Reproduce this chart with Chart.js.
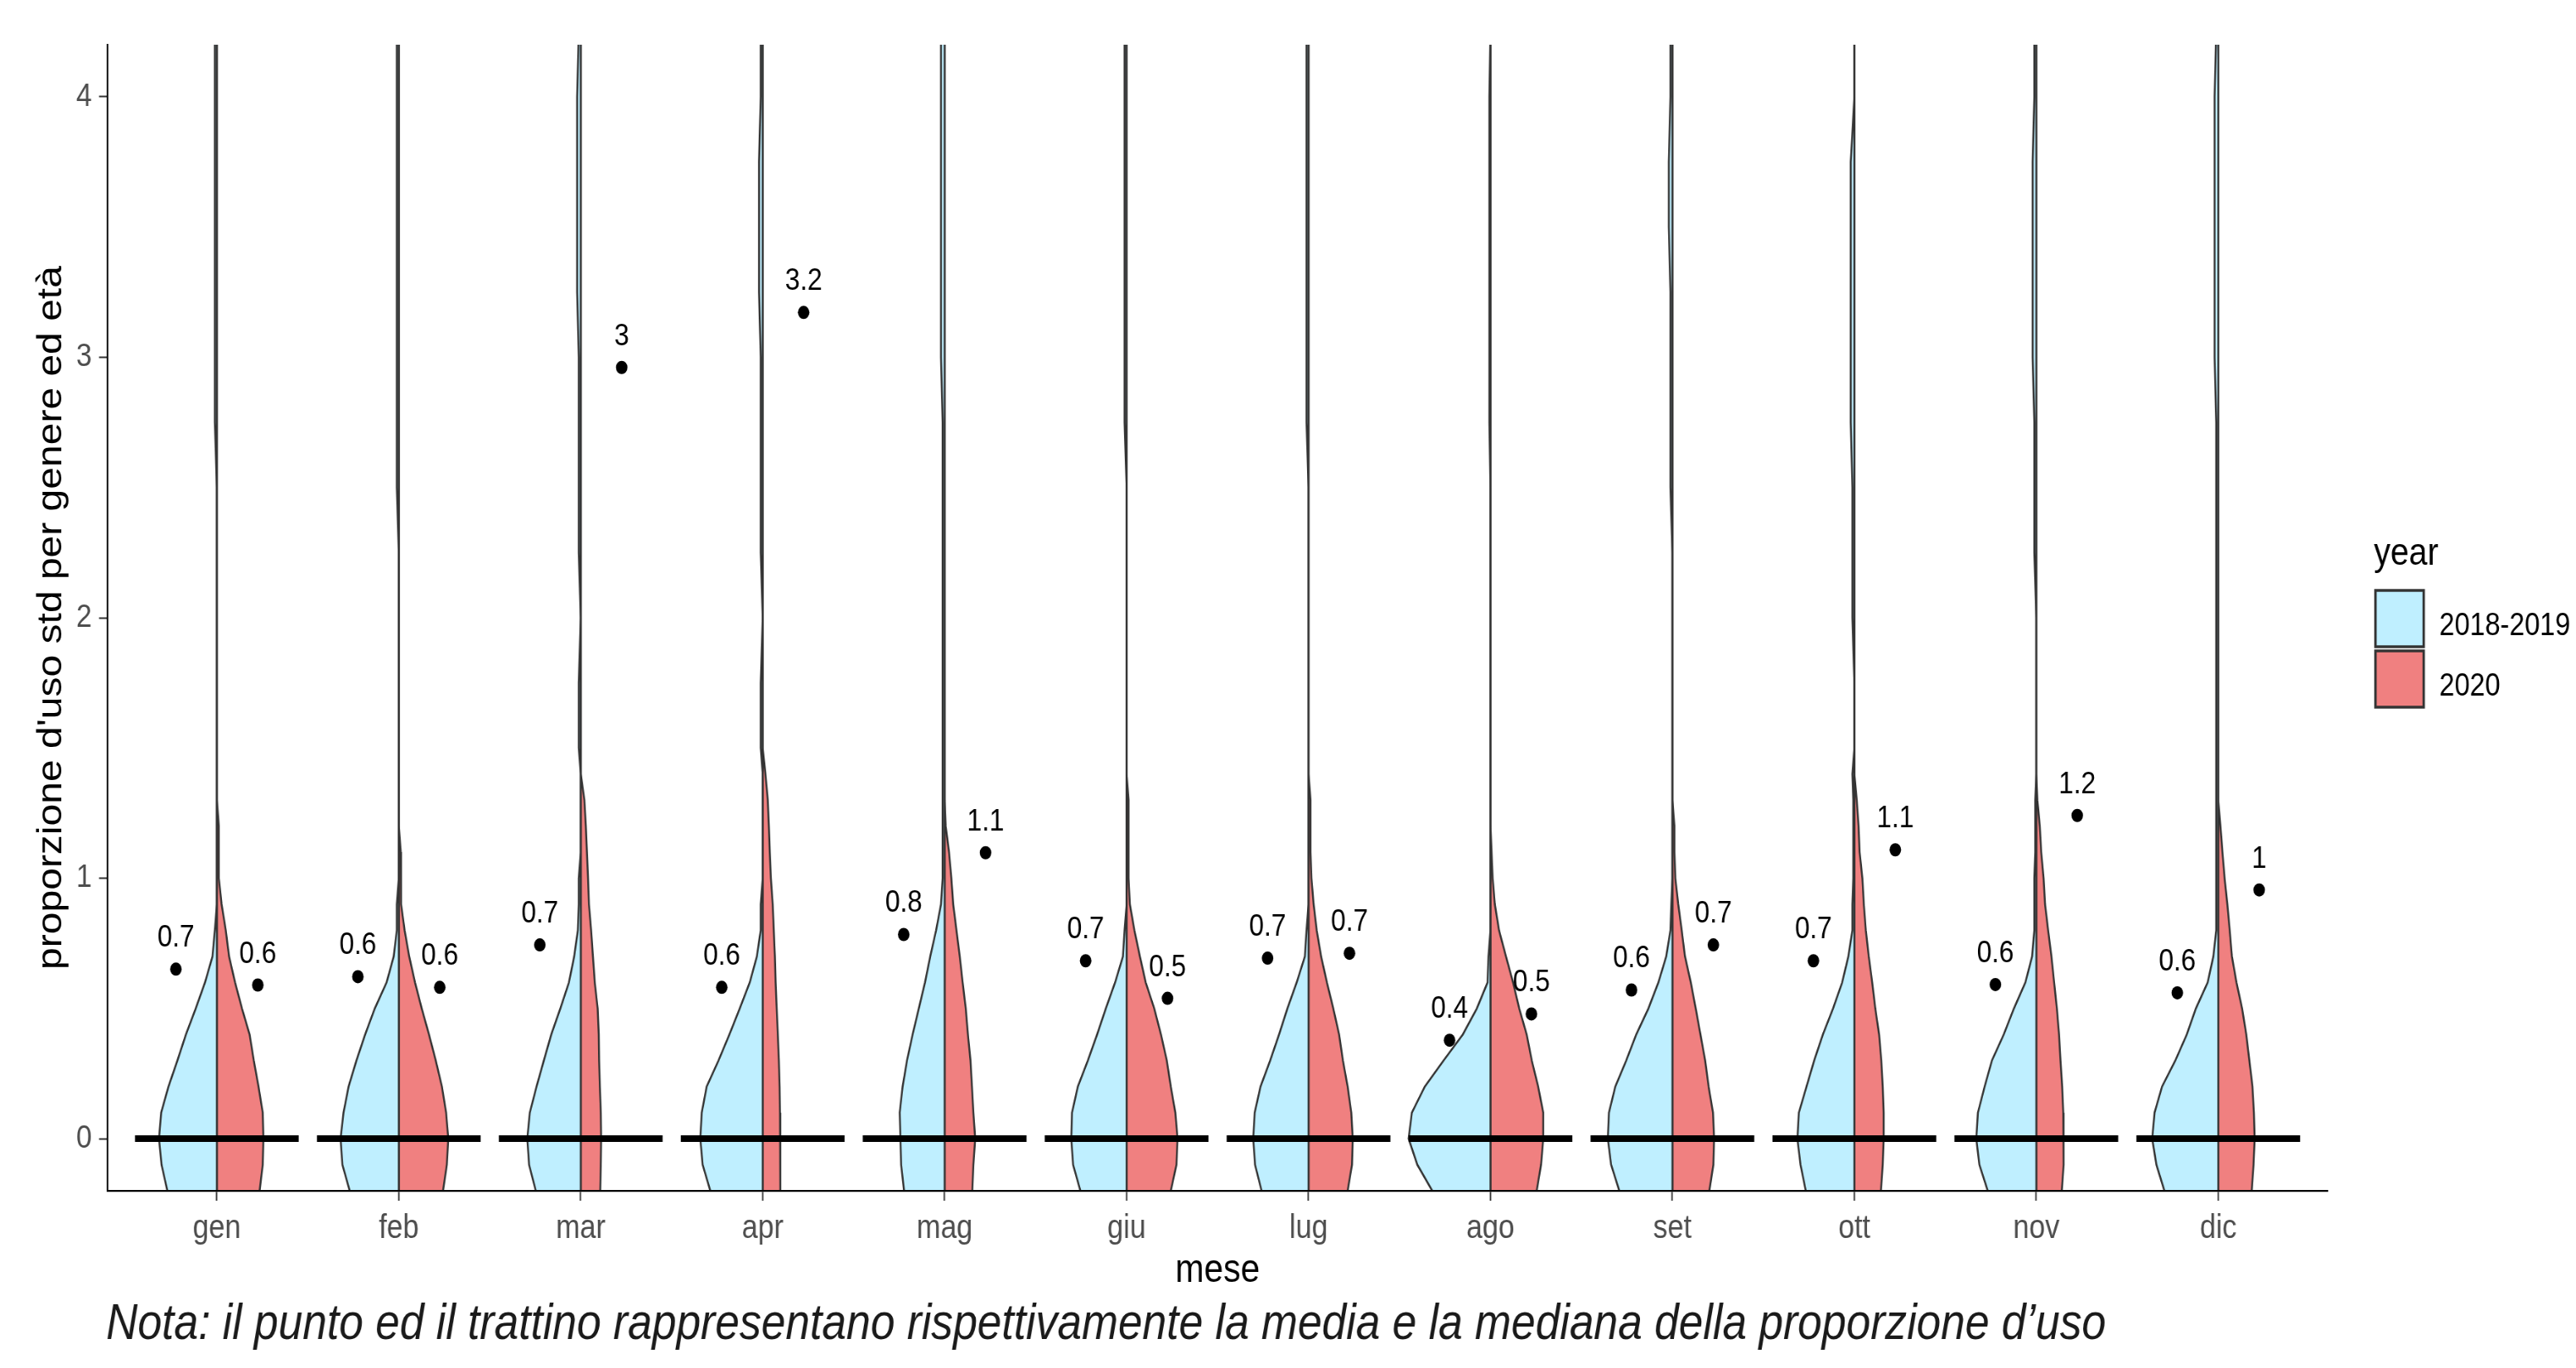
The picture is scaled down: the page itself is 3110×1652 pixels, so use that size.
<!DOCTYPE html>
<html>
<head>
<meta charset="utf-8">
<script src="https://cdn.jsdelivr.net/npm/chart.js@4.4.1/dist/chart.umd.min.js"></script>
<style>
  html, body { margin: 0; padding: 0; background: #fff; }
  #frame { width: 3110px; height: 1652px; overflow: hidden; }
  /* the original picture is squeezed sideways, so draw wider and squeeze */
  #wrap { width: 3575px; height: 1652px; transform: scaleX(0.86993); transform-origin: 0 0; }
</style>
</head>
<body>
<div id="frame"><div id="wrap"><canvas id="violin"></canvas></div></div>
<script>
const MONTHS = ["gen", "feb", "mar", "apr", "mag", "giu", "lug", "ago", "set", "ott", "nov", "dic"];
const GROUPS = ["2018-2019", "2020"];
const Y_TICKS = [0, 1, 2, 3, 4];

// heights where the half widths below were read (y units)
const Y_LEVELS = [-0.2, -0.1, 0, 0.1, 0.2, 0.3, 0.4, 0.5, 0.6, 0.7, 0.8, 0.9, 1.0, 1.1, 1.2, 1.3, 1.4, 1.5,
                  1.75, 2, 2.25, 2.5, 2.75, 3, 3.25, 3.5, 3.75, 4, 4.25];

// half width of each violin (category units), 2018-2019 = left half
const WIDTH_1819 = [
  [0.272, 0.304, 0.318, 0.306, 0.266, 0.217, 0.170, 0.116, 0.065, 0.024, 0.011, 0, 0, 0, 0, 0, 0, 0, 0, 0, 0, 0, 0.011, 0.011, 0.011, 0.011, 0.011, 0.011, 0.011], // gen
  [0.270, 0.310, 0.320, 0.304, 0.276, 0.233, 0.185, 0.132, 0.067, 0.028, 0.011, 0.011, 0, 0, 0, 0, 0, 0, 0, 0, 0, 0.011, 0.011, 0.011, 0.011, 0.011, 0.011, 0.011, 0.011], // feb
  [0.247, 0.284, 0.294, 0.280, 0.243, 0.203, 0.162, 0.112, 0.065, 0.036, 0.016, 0.011, 0.011, 0, 0, 0, 0, 0.011, 0.011, 0, 0.011, 0.011, 0.011, 0.011, 0.020, 0.020, 0.020, 0.020, 0.011], // mar
  [0.288, 0.330, 0.343, 0.335, 0.308, 0.243, 0.183, 0.126, 0.071, 0.032, 0.011, 0.011, 0, 0, 0, 0, 0, 0.011, 0.011, 0, 0.011, 0.011, 0.011, 0.011, 0.020, 0.020, 0.020, 0.011, 0.011], // apr
  [0.223, 0.239, 0.243, 0.247, 0.231, 0.207, 0.176, 0.142, 0.108, 0.079, 0.047, 0.020, 0.011, 0.011, 0.011, 0.011, 0.011, 0.011, 0.011, 0.011, 0.011, 0.011, 0.011, 0.020, 0.020, 0.020, 0.020, 0.020, 0.020], // mag
  [0.254, 0.294, 0.304, 0.300, 0.268, 0.213, 0.162, 0.114, 0.063, 0.020, 0.011, 0, 0, 0, 0, 0, 0, 0, 0, 0, 0, 0, 0.011, 0.011, 0.011, 0.011, 0.011, 0.011, 0.011], // giu
  [0.258, 0.294, 0.304, 0.296, 0.264, 0.211, 0.162, 0.116, 0.065, 0.020, 0.011, 0, 0, 0, 0, 0, 0, 0, 0, 0, 0, 0, 0.011, 0.011, 0.011, 0.011, 0.011, 0.011, 0.011], // lug
  [0.320, 0.402, 0.450, 0.432, 0.361, 0.258, 0.152, 0.075, 0.016, 0.011, 0, 0, 0, 0, 0, 0, 0, 0, 0, 0, 0, 0, 0.006, 0.006, 0.006, 0.006, 0.006, 0.006, 0], // ago
  [0.292, 0.337, 0.355, 0.349, 0.314, 0.254, 0.199, 0.132, 0.077, 0.034, 0.011, 0.006, 0, 0, 0, 0, 0, 0, 0, 0, 0, 0.011, 0.011, 0.011, 0.011, 0.020, 0.020, 0.011, 0.011], // set
  [0.267, 0.296, 0.313, 0.305, 0.263, 0.221, 0.173, 0.117, 0.067, 0.033, 0.011, 0.011, 0.006, 0.006, 0.006, 0.006, 0.011, 0, 0, 0.011, 0.011, 0.011, 0.020, 0.020, 0.020, 0.020, 0.020, 0, 0], // ott
  [0.267, 0.313, 0.330, 0.321, 0.284, 0.244, 0.179, 0.123, 0.060, 0.023, 0.011, 0.011, 0.011, 0.006, 0.006, 0.006, 0, 0, 0, 0, 0.011, 0.011, 0.011, 0.020, 0.020, 0.020, 0.020, 0.011, 0.011], // nov
  [0.296, 0.340, 0.363, 0.350, 0.309, 0.236, 0.173, 0.123, 0.058, 0.027, 0.011, 0.011, 0.011, 0.011, 0.011, 0.011, 0.011, 0.011, 0.011, 0.011, 0.011, 0.011, 0.011, 0.020, 0.020, 0.020, 0.020, 0.020, 0.011]  // dic
];

// 2020 = right half
const WIDTH_2020 = [
  [0.235, 0.252, 0.256, 0.252, 0.229, 0.203, 0.180, 0.138, 0.100, 0.067, 0.049, 0.026, 0.011, 0.011, 0.011, 0, 0, 0, 0, 0, 0, 0, 0, 0, 0, 0, 0, 0, 0], // gen
  [0.243, 0.264, 0.272, 0.260, 0.237, 0.203, 0.166, 0.126, 0.089, 0.057, 0.032, 0.014, 0.011, 0.011, 0, 0, 0, 0, 0, 0, 0, 0, 0, 0, 0, 0, 0, 0, 0], // feb
  [0.107, 0.110, 0.112, 0.110, 0.105, 0.101, 0.099, 0.093, 0.077, 0.067, 0.057, 0.045, 0.040, 0.034, 0.028, 0.020, 0, 0, 0, 0, 0, 0, 0, 0, 0, 0, 0, 0, 0], // mar
  [0.097, 0.097, 0.097, 0.095, 0.093, 0.089, 0.083, 0.077, 0.071, 0.067, 0.061, 0.055, 0.045, 0.039, 0.034, 0.028, 0.015, 0, 0, 0, 0, 0, 0, 0, 0, 0, 0, 0, 0], // apr
  [0.152, 0.158, 0.168, 0.158, 0.150, 0.142, 0.128, 0.116, 0.099, 0.083, 0.065, 0.047, 0.037, 0.024, 0.006, 0, 0, 0, 0, 0, 0, 0, 0, 0, 0, 0, 0, 0, 0], // mag
  [0.243, 0.274, 0.280, 0.268, 0.243, 0.221, 0.189, 0.152, 0.105, 0.073, 0.043, 0.018, 0.011, 0.011, 0.011, 0.011, 0, 0, 0, 0, 0, 0, 0, 0, 0, 0, 0, 0, 0], // giu
  [0.215, 0.239, 0.243, 0.235, 0.215, 0.189, 0.168, 0.136, 0.101, 0.069, 0.045, 0.028, 0.016, 0.011, 0.011, 0.011, 0, 0, 0, 0, 0, 0, 0, 0, 0, 0, 0, 0, 0], // lug
  [0.254, 0.278, 0.290, 0.290, 0.262, 0.227, 0.199, 0.158, 0.124, 0.085, 0.047, 0.024, 0.012, 0.006, 0, 0, 0, 0, 0, 0, 0, 0, 0, 0, 0, 0, 0, 0, 0], // ago
  [0.203, 0.225, 0.229, 0.223, 0.199, 0.180, 0.154, 0.128, 0.101, 0.069, 0.051, 0.032, 0.016, 0.011, 0.011, 0, 0, 0, 0, 0, 0, 0, 0, 0, 0, 0, 0, 0, 0], // set
  [0.146, 0.156, 0.161, 0.161, 0.156, 0.148, 0.136, 0.115, 0.098, 0.079, 0.063, 0.052, 0.044, 0.029, 0.023, 0.013, 0, 0, 0, 0, 0, 0, 0, 0, 0, 0, 0, 0, 0], // ott
  [0.140, 0.150, 0.150, 0.148, 0.142, 0.133, 0.125, 0.113, 0.098, 0.083, 0.065, 0.048, 0.040, 0.027, 0.019, 0.006, 0, 0, 0, 0, 0, 0, 0, 0, 0, 0, 0, 0, 0], // nov
  [0.184, 0.194, 0.200, 0.196, 0.188, 0.171, 0.154, 0.131, 0.100, 0.075, 0.063, 0.050, 0.035, 0.023, 0.012, 0, 0, 0, 0, 0, 0, 0, 0, 0, 0, 0, 0, 0, 0]  // dic
];

const MEAN_1819 = [0.651, 0.622, 0.744, 0.581, 0.784, 0.683, 0.693, 0.378, 0.571, 0.683, 0.592, 0.560];
const MEAN_2020 = [0.590, 0.581, 2.961, 3.172, 1.098, 0.539, 0.712, 0.479, 0.744, 1.109, 1.241, 0.955];
const MEDIAN_1819 = [0, 0, 0, 0, 0, 0, 0, 0, 0, 0, 0, 0];
const MEDIAN_2020 = [0, 0, 0, 0, 0, 0, 0, 0, 0, 0, 0, 0];

const FILLS = ["#BFEFFF", "#F08080"];
const SANS = "'Liberation Sans', Arial, sans-serif";
const SQ = 0.86993;          // sideways squeeze of the page
const px = v => v / SQ;      // screen x -> canvas x
const DODGE = 0.225;
const HALF = 0.45;

function halfViolin(pos, widths, side) {
  // up the middle, then back down along the outer edge
  const pts = Y_LEVELS.map(y => ({ x: pos, y: y }));
  for (let i = Y_LEVELS.length - 1; i >= 0; i--) {
    pts.push({ x: pos + side * widths[i], y: Y_LEVELS[i] });
  }
  return pts;
}

const fmt = v => String(Math.round(v * 10) / 10);

const datasets = [];
MONTHS.forEach((m, i) => {
  const pos = i + 1;
  [WIDTH_1819[i], WIDTH_2020[i]].forEach((w, g) => {
    datasets.push({
      type: "line",
      label: GROUPS[g] + " " + m,
      data: halfViolin(pos, w, g === 0 ? -1 : 1),
      showLine: true,
      fill: "shape",
      backgroundColor: FILLS[g],
      borderColor: "#333333",
      borderWidth: 2.6,
      pointRadius: 0,
      pointHitRadius: 0,
      tension: 0,
      order: 3
    });
  });
});

const medianPts = [];
MONTHS.forEach((m, i) => {
  const pos = i + 1;
  medianPts.push({ x: pos - HALF, y: MEDIAN_1819[i] }, { x: pos, y: MEDIAN_1819[i] });
  medianPts.push({ x: pos, y: MEDIAN_2020[i] }, { x: pos + HALF, y: MEDIAN_2020[i] });
  medianPts.push({ x: pos + 0.5, y: null });
});
datasets.push({
  type: "line",
  label: "mediana",
  data: medianPts,
  showLine: true,
  spanGaps: false,
  borderColor: "#000000",
  borderWidth: 8,
  borderCapStyle: "butt",
  pointRadius: 0,
  fill: false,
  order: 2
});

const meanPts = [];
const meanVals = [];
MONTHS.forEach((m, i) => {
  meanPts.push({ x: i + 1 - DODGE, y: MEAN_1819[i] }, { x: i + 1 + DODGE, y: MEAN_2020[i] });
  meanVals.push(MEAN_1819[i], MEAN_2020[i]);
});
datasets.push({
  type: "scatter",
  label: "media",
  data: meanPts,
  pointRadius: 8,
  pointBackgroundColor: "#000000",
  pointBorderWidth: 0,
  order: 1
});
const meanIndex = datasets.length - 1;

const meanLabels = {
  id: "meanLabels",
  afterDatasetsDraw(chart) {
    const ctx = chart.ctx;
    const meta = chart.getDatasetMeta(meanIndex);
    ctx.save();
    ctx.font = "37px " + SANS;
    ctx.fillStyle = "#000000";
    ctx.textAlign = "center";
    ctx.textBaseline = "alphabetic";
    meta.data.forEach((pt, k) => {
      ctx.fillText(fmt(meanVals[k]), pt.x, pt.y - 27);
    });
    ctx.restore();
  }
};

// legend on the right + caption under the chart
const extras = {
  id: "extras",
  afterDraw(chart) {
    const ctx = chart.ctx;
    ctx.save();
    ctx.fillStyle = "#000000";
    ctx.textAlign = "left";
    ctx.textBaseline = "alphabetic";
    ctx.font = "46px " + SANS;
    ctx.fillText("year", px(2866), 682);
    GROUPS.forEach((g, k) => {
      const top = 712 + k * 73;
      ctx.fillStyle = FILLS[k];
      ctx.fillRect(px(2867), top, px(60), 70);
      ctx.strokeStyle = "#333333";
      ctx.lineWidth = 3.4;
      ctx.strokeRect(px(2867) + 1, top + 1, px(60) - 2, 68);
      ctx.fillStyle = "#000000";
      ctx.font = "38px " + SANS;
      ctx.fillText(g, px(2945), top + 55);
    });
    ctx.font = "italic 60.6px " + SANS;
    ctx.fillStyle = "#1a1a1a";
    ctx.fillText("Nota: il punto ed il trattino rappresentano rispettivamente la media e la mediana della proporzione d\u2019uso", px(128), 1617);
    ctx.restore();
  }
};

const axisGrid = {
  display: true,
  drawOnChartArea: false,
  drawTicks: true,
  tickLength: 12,
  tickColor: "#333333",
  tickWidth: 2
};
const axisBorder = { display: true, color: "#000000", width: 2.3, z: 1 };

new Chart(document.getElementById("violin"), {
  type: "scatter",
  data: { datasets: datasets },
  options: {
    responsive: true,
    maintainAspectRatio: false,
    animation: false,
    events: [],
    layout: { padding: { top: 54, right: 345, bottom: 0, left: 0 } },
    plugins: {
      legend: { display: false },
      tooltip: { enabled: false }
    },
    scales: {
      x: {
        type: "linear",
        min: 0.4,
        max: 12.6,
        afterBuildTicks: s => { s.ticks = MONTHS.map((m, i) => ({ value: i + 1 })); },
        afterFit: s => { s.height = 214; },
        ticks: {
          callback: v => MONTHS[Math.round(v) - 1],
          font: { family: SANS, size: 40 },
          color: "#4D4D4D",
          padding: 10,
          maxRotation: 0,
          autoSkip: false
        },
        grid: axisGrid,
        border: axisBorder,
        title: {
          display: true,
          text: "mese",
          font: { family: SANS, size: 48 },
          color: "#000000",
          padding: { top: 0, bottom: 88 }
        }
      },
      y: {
        type: "linear",
        min: -0.2,
        max: 4.2,
        afterBuildTicks: s => { s.ticks = Y_TICKS.map(v => ({ value: v })); },
        afterFit: s => { s.width = px(130); },
        ticks: {
          font: { family: SANS, size: 39 },
          color: "#4D4D4D",
          padding: 10
        },
        grid: axisGrid,
        border: axisBorder,
        title: {
          display: true,
          text: "proporzione d'uso std per genere ed et\u00e0",
          font: { family: SANS, size: 48 },
          color: "#000000",
          padding: { top: 43, bottom: 0 }
        }
      }
    }
  },
  plugins: [meanLabels, extras]
});
</script>
</body>
</html>
